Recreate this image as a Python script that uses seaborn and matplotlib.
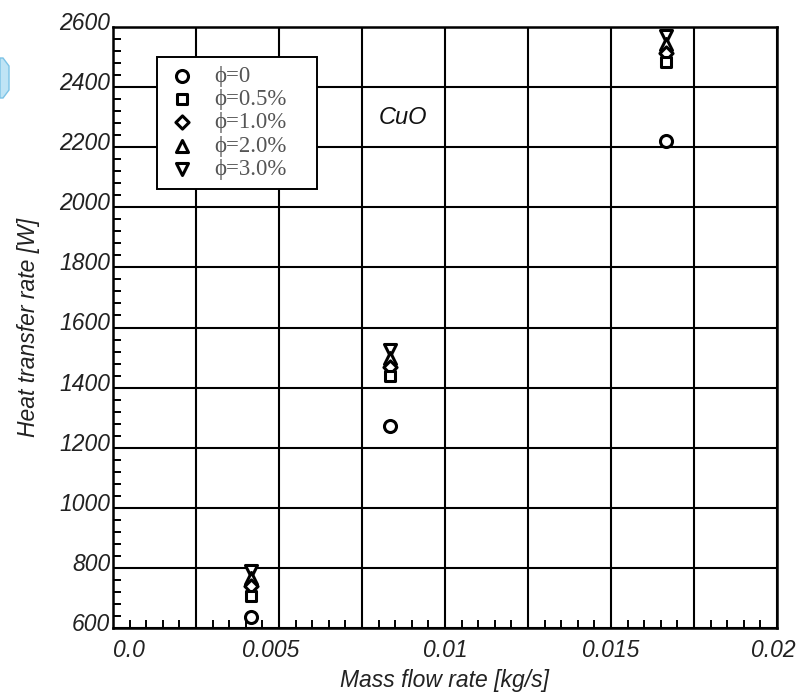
import numpy as np
import pandas as pd
import seaborn as sns
import matplotlib
matplotlib.use("Agg")
import matplotlib.pyplot as plt
from matplotlib.ticker import MultipleLocator, FuncFormatter
from matplotlib.patches import Polygon
import matplotlib.transforms as mtransforms

# ---- data ----
mass_flow = [0.00417, 0.00833, 0.01667]
q_phi0 = [637, 1272, 2222]
q_phi05 = [708, 1437, 2483]
q_phi10 = [740, 1470, 2515]
q_phi20 = [765, 1497, 2543]
q_phi30 = [790, 1525, 2570]
series_labels = ["ϕ=0", "ϕ=0.5%", "ϕ=1.0%", "ϕ=2.0%", "ϕ=3.0%"]
x_tick_labels = ["0.0", "0.005", "0.01", "0.015", "0.02"]

sns.set_theme(style="white")
plt.rcParams['font.family'] = ['Liberation Sans', 'DejaVu Sans']

fig = plt.figure(figsize=(8.08, 6.99), dpi=100)
ax = fig.add_axes([113/808, 1-628/699, (777-113)/808, (628-27)/699])

rows = []
for lab, vals in zip(series_labels, [q_phi0, q_phi05, q_phi10, q_phi20, q_phi30]):
    for x, y in zip(mass_flow, vals):
        rows.append({"m": x, "q": y, "phi": lab})
df = pd.DataFrame(rows)

markers = {"ϕ=0": "o", "ϕ=0.5%": "s", "ϕ=1.0%": "D", "ϕ=2.0%": "^", "ϕ=3.0%": "v"}
sizes = {"ϕ=0": 75, "ϕ=0.5%": 60, "ϕ=1.0%": 45, "ϕ=2.0%": 75, "ϕ=3.0%": 75}
for lab in series_labels[::-1]:
    sub = df[df.phi == lab]
    sns.scatterplot(data=sub, x="m", y="q", marker=markers[lab], s=sizes[lab],
                    facecolor="white", edgecolor="black", linewidth=2.2,
                    ax=ax, zorder=3, label=lab, legend=False)

ax.set_xlim(0, 0.02)
ax.set_ylim(600, 2600)

ax.xaxis.set_major_locator(MultipleLocator(0.0025))
ax.xaxis.set_minor_locator(MultipleLocator(0.0005))
ax.yaxis.set_major_locator(MultipleLocator(200))
ax.yaxis.set_minor_locator(MultipleLocator(40))

label_map = {0: x_tick_labels[0], 2: x_tick_labels[1], 4: x_tick_labels[2],
             6: x_tick_labels[3], 8: x_tick_labels[4]}
ax.xaxis.set_major_formatter(FuncFormatter(
    lambda v, p: label_map.get(int(round(v / 0.0025)), "")))

ax.grid(True, which="major", color="black", linewidth=1.5)
ax.set_axisbelow(True)
for sp in ax.spines.values():
    sp.set_color("black")
    sp.set_linewidth(1.8)

ax.tick_params(axis="both", which="major", length=0, labelsize=16.5,
               labelcolor="#222222")
ax.tick_params(axis="x", which="major", pad=8)
ax.tick_params(axis="y", which="major", pad=2)
ax.tick_params(axis="both", which="minor", direction="in", length=6,
               width=1.4, color="black", bottom=True, left=True, top=False,
               right=False)
for t in ax.get_xticklabels() + ax.get_yticklabels():
    t.set_style("italic")

# y tick labels sit slightly above grid lines
off = mtransforms.ScaledTranslation(0, 6/100, fig.dpi_scale_trans)
for t in ax.get_yticklabels():
    t.set_transform(t.get_transform() + off)
# x tick labels slightly displaced as in the reference
x_shift_px = {"0.0": 16, "0.005": -8, "0.02": -4}
fig.canvas.draw()
for t in ax.get_xticklabels():
    s = t.get_text()
    if s in x_shift_px:
        t.set_transform(t.get_transform() + mtransforms.ScaledTranslation(
            x_shift_px[s]/100, 0, fig.dpi_scale_trans))

ax.set_xlabel("Mass flow rate [kg/s]", fontsize=16.5, style="italic",
              color="#222222", labelpad=5)
ax.set_ylabel("Heat transfer rate [W]", fontsize=16.5, style="italic",
              color="#222222", labelpad=14)

ax.text(0.0080, 2300, "CuO", fontsize=17, style="italic",
        color="#111111", ha="left", va="center")

handles, labels = ax.get_legend_handles_labels()
order = [labels.index(l) for l in series_labels]
leg = ax.legend([handles[i] for i in order], [labels[i] for i in order],
                loc="upper left",
                bbox_to_anchor=((157-113)/664, (628-57)/601 - 0.21,
                                (317-157)/664, 0.21),
                mode="expand",
                frameon=True, fancybox=False, framealpha=1, edgecolor="black",
                prop={"family": "Liberation Serif", "size": 16.5},
                labelspacing=0.1, handletextpad=0.7, borderpad=0.38,
                handlelength=1.4, borderaxespad=0)
leg.get_frame().set_linewidth(1.4)
for t in leg.get_texts():
    t.set_color("#555555")

# decorative partial blue shape at left edge
poly = Polygon([(0, 1-58/699), (3/808, 1-58/699), (9/808, 1-66/699),
                (9/808, 1-90/699), (3/808, 1-98/699), (0, 1-98/699)],
               closed=True, transform=fig.transFigure, facecolor="#bfe4f5",
               edgecolor="#7cc3e6", linewidth=1)
fig.patches.append(poly)

fig.savefig("out.png", dpi=100, facecolor="white")
